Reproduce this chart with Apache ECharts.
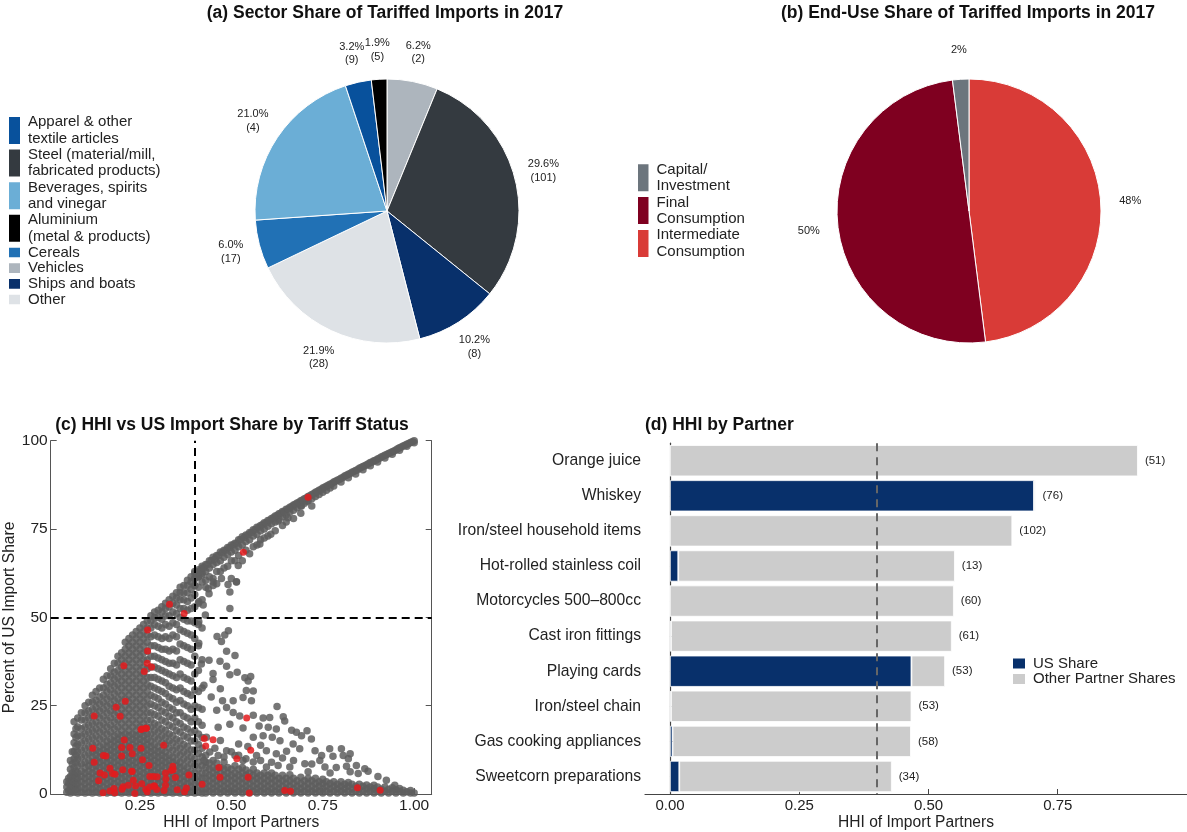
<!DOCTYPE html>
<html>
<head>
<meta charset="utf-8">
<script src="https://cdn.jsdelivr.net/npm/echarts@6/dist/echarts.min.js"></script>
<style>html,body{margin:0;padding:0;background:#fff}#c{width:1187px;height:832px}</style>
</head>
<body>
<div id="c"></div>
<script>
// ---------- (a) sector pie (clockwise from 12 o'clock) ----------
const sectorNames = ['Vehicles', 'Steel (material/mill, fabricated products)', 'Ships and boats', 'Other', 'Cereals', 'Beverages, spirits and vinegar', 'Apparel & other textile articles', 'Aluminium (metal & products)'];
const sectorShares = [6.2, 29.6, 10.2, 21.9, 6.0, 21.0, 3.2, 1.9];
const sectorCounts = [2, 101, 8, 28, 17, 4, 9, 5];
const sectorLegendTall = ['Apparel & other textile articles', 'Steel (material/mill, fabricated products)', 'Beverages, spirits and vinegar', 'Aluminium (metal & products)'];
const sectorLegendShort = ['Cereals', 'Vehicles', 'Ships and boats', 'Other'];

// ---------- (b) end-use pie (clockwise from 12 o'clock) ----------
const endUseNames = ['Intermediate Consumption', 'Final Consumption', 'Capital/ Investment'];
const endUseShares = [48, 50, 2];
const endUseLegend = ['Capital/ Investment', 'Final Consumption', 'Intermediate Consumption'];

// ---------- (d) HHI by partner ----------
const products = ['Orange juice', 'Whiskey', 'Iron/steel household items', 'Hot-rolled stainless coil', 'Motorcycles 500–800cc', 'Cast iron fittings', 'Playing cards', 'Iron/steel chain', 'Gas cooking appliances', 'Sweetcorn preparations'];
const usShareHHI = [0.000, 0.704, 0.000, 0.016, 0.000, 0.002, 0.467, 0.002, 0.005, 0.018];
const totalHHI = [0.905, 0.707, 0.662, 0.551, 0.549, 0.545, 0.532, 0.467, 0.466, 0.429];
const partnerCounts = [51, 76, 102, 13, 60, 61, 53, 53, 58, 34];
const hhiThreshold = 0.4;
const usShareThreshold = 50;

// ---------- (c) scatter: HHI vs US share ----------
// dense region, columns: [HHI, [US share values]]
const grayDenseCols = [
 [0.05,[0.5,2,3.5]],
 [0.055,[1,3,4.5]],
 [0.06,[0.3,1.5,3,5,7,9.5]],
 [0.065,[0.8,2.5,4,6,8.5,12]],
 [0.07,[0.5,2,3.5,5.5,7.5,10,12,14.5,17,20.5]],
 [0.075,[1.2,3,4.8,6.5,9,11,13.5,16,18.5]],
 [0.08,[0.3,1.5,3,4.5,6,8,10,12,14,16.5,19,21.5]],
 [0.09,[0.5,2,3.5,5,6.5,8.5,10.5,12.5,14.5,16.5,18.5,21,23]],
 [0.10,[0.3,1.5,3,4.5,6,7.5,9,11,13,15,17,19,21,23,25]],
 [0.11,[0.5,2,3.5,5,6.5,8,9.5,11.5,13.5,15.5,17.5,19.5,21.5,23.5,26]],
 [0.12,[0.3,1.5,3,4.5,6,7.5,9,10.5,12,14,16,18,20,22,24,26,28]],
 [0.13,[0.5,2,3.5,5,6.5,8,9.5,11,12.5,14.5,16.5,18.5,20.5,22.5,24.5,26.5,29]],
 [0.14,[0.3,1.5,3,4.5,6,7.5,9,10.5,12,13.5,15.5,17.5,19.5,21.5,23.5,25.5,27.5,30]],
 [0.15,[0.5,2,3.5,5,6.5,8,9.5,11,12.5,14,16,18,20,22,24,26,28,30,32.5]],
 [0.16,[0.3,1.5,3,4.5,6,7.5,9,10.5,12,13.5,15,17,19,21,23,25,27,29,31,33.5]],
 [0.17,[0.5,2,3.5,5,6.5,8,9.5,11,12.5,14,15.5,17.5,19.5,21.5,23.5,25.5,27.5,29.5,31.5,33.5,35.5]],
 [0.18,[0.3,1.5,3,4.5,6,7.5,9,10.5,12,13.5,15,16.5,18.5,20.5,22.5,24.5,26.5,28.5,30.5,32.5,34.5,37]],
 [0.19,[0.5,2,3.5,5,6.5,8,9.5,11,12.5,14,15.5,17,19,21,23,25,27,29,31,33,35,37,39]],
 [0.20,[0.3,1.5,3,4.5,6,7.5,9,10.5,12,13.5,15,16.5,18,20,22,24,26,28,30,32,34,36,38,40]],
 [0.21,[0.5,2,3.5,5,6.5,8,9.5,11,12.5,14,15.5,17,19,21,23,25,27,29,31,33,35,37,39,41,43]],
 [0.22,[0.3,1.5,3,4.5,6,7.5,9,10.5,12,13.5,15,16.5,18,20,22,24,26,28,30,32,34,36,38,40,42,44]],
 [0.23,[0.5,2,3.5,5,6.5,8,9.5,11,12.5,14,15.5,17,19,21,23,25,27,29,31,33,35,37,39,41,43,45]],
 [0.24,[0.3,1.5,3,4.5,6,7.5,9,10.5,12,13.5,15,16.5,18,20,22,24,26,28,30,32,34,36,38,40,42,44,46]],
 [0.25,[0.5,2,3.5,5,6.5,8,9.5,11,12.5,14,15.5,17,19,21,23,25,27,29,31,33,35,37,39,41,43,45,47]],
 [0.26,[0.3,1.5,3,4.5,6,7.5,9,10.5,12,13.5,15,16.5,18,20,22,24,26,28,30,32,34,36,38,40,42,44,46,48]],
 [0.27,[0.5,2,3.5,5,6.5,8,9.5,11,12.5,14,15.5,17,19,21,23,25,27,29,31,33,35.5,38,40.5,43,45,47,49]],
 [0.28,[0.3,1.5,3,4.5,6,7.5,9,10.5,12,13.5,15,17,19,21,23,25.5,28,30.5,33,36,39,42,44.5,47,49,50.5]],
 [0.29,[0.5,2,3.5,5,6.5,8,9.5,11,12.5,14,16,18,20,22.5,25,27.5,30,33,36,39,42,45,48,50,51.5]],
 [0.30,[0.3,1.5,3,4.5,6,7.5,9,10.5,12,13.5,15.5,17.5,19.5,22,24.5,27,29.5,32.5,35.5,38.5,41.5,44.5,47.5,50,52]],
 [0.31,[0.5,2,3.5,5,6.5,8,9.5,11,12.5,14.5,16.5,18.5,21,23.5,26,29,32,35,38,41,44,47,49.5,51.5,53]],
 [0.32,[0.3,1.5,3,4.5,6,7.5,9,10.5,12,14,16,18,20.5,23,25.5,28.5,31.5,34.5,37.5,41,44.5,48,50.5,52.5,54]],
 [0.33,[0.5,2,3.5,5,6.5,8,9.5,11,13,15,17,19.5,22,24.5,27.5,30.5,34,37,40.5,44,47.5,50.5,53,55]],
 [0.34,[0.3,1.5,3,4.5,6,7.5,9,10.5,12.5,14.5,16.5,19,21.5,24,27,30,33.5,37,41,45,48.5,51.5,54,56]],
 [0.35,[0.5,2,3.5,5,6.5,8,9.5,11.5,13.5,15.5,18,20.5,23,26,29.5,33,36.5,40.5,44.5,48,51,53.5,55.5,57]],
 [0.36,[0.3,1.5,3,4.5,6,7.5,9,11,13,15,17.5,20,23,26.5,30,34,38,42.5,46.5,50,52.5,55,57,58.5]],
 [0.37,[0.5,2,3.5,5,6.5,8,10,12,14,16.5,19,22,25.5,29,33,37.5,42,46,49.5,52.5,55,57,59]],
 [0.38,[0.3,1.5,3,4.5,6,7.5,9.5,11.5,13.5,16,18.5,21.5,25,28.5,32.5,37,41.5,45.5,49,52,54.5,57,59,60.5]],
 [0.39,[0.5,2,3.5,5,6.5,8.5,10.5,12.5,15,17.5,20.5,24,28,32,36.5,41,45,49,52.5,55.5,58,60,61.5]],
 [0.40,[0.3,1.5,3,4.5,6,8,10,12.5,15,18,21.5,25,29.5,34,39,44,48.5,53,56.5,59,61,62.5]],
 [0.41,[0.5,2,3.5,5,7,9,11.5,14,17,20.5,24.5,29,35,42,48,54,58.5,61.5,63]],
 [0.42,[0.3,1.5,3,4.5,6,8,10.5,13,16,19.5,24,30,38,47,55,60,62.5,64]]
];
// low-share band to the right, columns
const grayBottomCols = [
 [0.43,[0.3,1.5,3,4.5,6,7.5,9,11]],[0.44,[0.8,2.2,3.8,5.3,7,8.8]],[0.45,[0.3,1.5,3,4.5,6,7.5,9.5]],
 [0.46,[0.8,2.2,3.8,5.3,7,8.8]],[0.47,[0.3,1.5,3,4.5,6,7.5]],[0.48,[0.8,2.2,3.8,5.3,7,9]],
 [0.49,[0.3,1.5,3,4.5,6,7.5]],[0.50,[0.8,2.2,3.8,5.3,7]],[0.51,[0.3,1.5,3,4.5,6,8]],
 [0.52,[0.8,2.2,3.8,5.3,7]],[0.53,[0.3,1.5,3,4.5,6,7.5]],[0.54,[0.8,2.2,3.8,5.3,6.8]],
 [0.55,[0.3,1.5,3,4.5,6]],[0.56,[0.8,2.2,3.8,5.3,7]],[0.57,[0.3,1.5,3,4.5,6]],
 [0.58,[0.8,2.2,3.8,5.3]],[0.59,[0.3,1.5,3,4.5,6]],[0.60,[0.8,2.2,3.8,5.3]],
 [0.61,[0.3,1.5,3,4.5,6]],[0.62,[0.8,2.2,3.8,5.3]],[0.63,[0.3,1.5,3,4.5]],
 [0.64,[0.8,2.2,3.8,5.3]],[0.65,[0.3,1.5,3,4.5]],[0.66,[0.8,2.2,3.8,5.5]],
 [0.67,[0.3,1.5,3,4.5]],[0.68,[0.8,2.2,3.8]],[0.69,[0.3,1.5,3,4.8]],
 [0.70,[0.8,2.2,3.8]],[0.71,[0.3,1.5,3,4.5]],[0.72,[0.8,2.2,3.8]],
 [0.73,[0.3,1.5,3,4.5]],[0.74,[0.8,2.2,3.5]],[0.75,[0.3,1.5,3,4.2]],
 [0.76,[0.8,2.2,3.5]],[0.77,[0.3,1.5,3]],[0.78,[0.8,2.2,3.5]],
 [0.79,[0.3,1.5,2.8]],[0.80,[0.8,2.2,3.5]],[0.81,[0.3,1.5,2.8]],
 [0.82,[0.8,2.2,3.3]],[0.83,[0.3,1.5,2.8]],[0.84,[0.8,2.2]],
 [0.85,[0.3,1.5,2.8]],[0.86,[0.8,2.2]],[0.87,[0.3,1.5,2.6]],
 [0.88,[0.8,2]],[0.89,[0.3,1.5,2.5]],[0.90,[0.8,2]],
 [0.91,[0.3,1.4]],[0.92,[0.8,2]],[0.93,[0.3,1.3]],
 [0.94,[0.8,1.8]],[0.95,[0.3,1.2]],[0.96,[0.8,1.6]],
 [0.97,[0.3,1.1]],[0.98,[0.7]],[0.99,[0.3,1]],[1.00,[0.3]]
];
// scattered mid-share points right of the threshold
const graySparse = [
 [0.411,48.8],[0.411,42.7],[0.418,36.8],[0.439,56.7],[0.450,61.0],[0.460,59.5],[0.473,61.0],[0.496,57.2],
 [0.491,59.3],[0.514,60.0],[0.496,52.5],[0.492,46.2],[0.482,45.0],[0.461,44.6],[0.473,43.2],[0.487,40.4],
 [0.510,39.2],[0.469,37.6],[0.439,37.9],[0.450,34.1],[0.450,32.4],[0.425,30.8],[0.487,36.2],[0.496,33.8],
 [0.516,34.5],[0.537,32.9],[0.553,33.3],[0.546,32.0],[0.541,29.3],[0.560,29.2],[0.555,26.4],[0.532,27.3],
 [0.505,26.4],[0.476,26.4],[0.460,23.7],[0.487,24.5],[0.505,23.1],[0.523,22.1],[0.560,22.3],[0.587,21.5],
 [0.605,21.7],[0.625,24.8],[0.642,21.9],[0.646,20.7],[0.623,18.4],[0.601,18.9],[0.576,19.3],[0.560,16.1],
 [0.587,16.5],[0.612,16.1],[0.633,15.1],[0.665,18.1],[0.678,17.5],[0.692,16.5],[0.707,17.9],[0.719,15.6],
 [0.669,14.2],[0.687,12.8],[0.651,12.1],[0.623,11.4],[0.596,12.3],[0.569,10.9],[0.560,9.1],[0.532,9.5],
 [0.510,10.9],[0.487,12.3],[0.464,10.9],[0.441,11.9],[0.425,9.5],[0.432,16.1],[0.464,18.9],[0.496,19.8],
 [0.532,18.7],[0.729,12.3],[0.747,10.9],[0.769,12.8],[0.778,10.7],[0.801,12.8],[0.806,10.9],[0.820,10.0],
 [0.825,11.4],[0.842,8.1],[0.865,7.2],[0.874,6.5],[0.901,5.0],[0.742,9.5],[0.701,8.6],[0.756,7.7],
 [0.787,7.5],[0.815,7.9],[0.660,7.7],[0.628,8.1],[0.596,7.7],[0.710,6.3],[0.825,6.3],[0.847,5.8],
 [0.924,3.9],[0.947,2.5],[0.437,58.1],[0.450,59.0],[0.411,54.4],[0.423,53.5],[0.429,50.7],[0.608,73.5],
 [0.578,70.8],[0.519,64.7],[0.510,66.0],[0.514,60.1],[0.500,61.0],[0.628,77.3],[0.655,78.2],[0.692,81.5],
 [0.706,82.9],[0.445,27.5],[0.470,29.8],[0.520,14.2],[0.545,13.5],[0.470,15.2],[0.580,13.8],[0.640,10.2],
 [0.455,13.0],[0.48,10.5],[0.50,12.0],[0.52,11.0],[0.54,10.0],[0.58,9.5],[0.61,9.0],[0.67,9.5],[0.72,8.5],[0.77,6.0]
];
// concentrated products along the upper edge
const grayUpper = [
 [0.40,63],[0.40,61],[0.40,59],[0.41,63.5],[0.41,61.5],[0.42,64.5],[0.42,62],[0.43,65],[0.43,63],[0.43,60.5],
 [0.44,66],[0.44,64],[0.44,61.5],[0.45,67],[0.45,65],[0.46,67.5],[0.46,65.5],[0.46,63],[0.47,68.5],[0.47,66],
 [0.48,69],[0.48,67],[0.48,64],[0.49,69.8],[0.49,67.8],[0.50,70.5],[0.50,68.5],[0.50,66],[0.51,71],[0.51,69],
 [0.52,72],[0.52,70],[0.52,67.5],[0.53,72.8],[0.53,70.5],[0.54,73.3],[0.54,71.5],[0.54,69],[0.55,74],[0.55,72],
 [0.56,74.8],[0.56,73],[0.56,70],[0.57,75.5],[0.57,73.5],[0.58,76],[0.58,74.5],[0.58,72],[0.59,76.8],[0.59,75],
 [0.60,77.4],[0.60,75.8],[0.60,73],[0.61,78],[0.61,76.5],[0.62,78.7],[0.62,77],[0.63,79.3],[0.63,77.8],[0.64,80],
 [0.64,78.5],[0.65,80.6],[0.65,79],[0.65,77],[0.66,81.2],[0.66,79.8],[0.67,81.8],[0.67,80.3],[0.68,82.4],[0.68,81],
 [0.69,83],[0.69,81.6],[0.70,83.6],[0.70,82.3],[0.71,84.2],[0.71,83],[0.72,84.8],[0.72,83.6],[0.73,85.4],[0.73,84.2],
 [0.74,86],[0.74,84.8],[0.75,86.6],[0.75,85.4],[0.76,87.1],[0.76,86],[0.77,87.7],[0.77,86.6],[0.78,88.3],[0.78,87.2],
 [0.79,88.8],[0.80,89.4],[0.80,88.3],[0.81,90],[0.82,90.5],[0.82,89.5],[0.83,91.1],[0.84,91.6],[0.84,90.6],[0.85,92.2],
 [0.86,92.7],[0.86,91.8],[0.87,93.2],[0.88,93.8],[0.88,92.9],[0.89,94.3],[0.90,94.8],[0.90,94],[0.91,95.4],[0.92,95.9],
 [0.92,95.1],[0.93,96.4],[0.94,96.9],[0.94,96.2],[0.95,97.4],[0.96,98],[0.96,97.3],[0.97,98.5],[0.98,99],[0.98,98.4],
 [0.99,99.5],[1.00,100],[1.00,99.4],
 [0.405,62.5],[0.415,63],[0.425,64],[0.435,65],[0.445,66],[0.455,66.5],[0.465,67.5],[0.475,68.3],[0.485,69],[0.495,69.8],
 [0.505,70.5],[0.515,71],[0.525,72],[0.535,72.6],[0.545,73.3],[0.555,74],[0.565,74.8],[0.575,75.5],[0.585,76.2],[0.595,76.8],
 [0.605,77.5],[0.615,78.2],[0.625,78.8],[0.635,79.5],[0.645,80],[0.655,80.7],[0.665,81.4],[0.675,82],[0.685,82.6],[0.695,83.2],
 [0.705,83.8],[0.715,84.4],[0.725,85],[0.735,85.6],[0.745,86.2],[0.755,86.8],[0.765,87.4],[0.775,87.9],[0.785,88.5],[0.795,89],
 [0.805,89.6],[0.815,90.2],[0.825,90.7],[0.835,91.3],[0.845,91.8],[0.855,92.4],[0.865,92.9],[0.875,93.5],[0.885,94],[0.895,94.5],
 [0.905,95],[0.915,95.6],[0.925,96.1],[0.935,96.6],[0.945,97.1],[0.955,97.7],[0.965,98.2],[0.975,98.7],[0.985,99.2],[0.995,99.7],
 [0.43,58.5],[0.45,60],[0.47,63],[0.49,64.5],[0.53,66],[0.55,68],[0.57,70.5],[0.59,72.5],[0.62,74.5],[0.64,76],
 [0.67,78],[0.69,79.5],[0.72,81.5]
];
// tariffed products (red)
const redPoints = [
 [0.710,84.0],[0.533,68.4],[0.331,53.7],[0.371,51.1],[0.271,46.4],[0.271,40.5],[0.206,36.3],[0.270,37.0],
 [0.282,36.0],[0.262,34.7],[0.210,26.3],[0.185,24.6],[0.125,22.1],[0.196,22.0],[0.253,18.3],[0.266,18.6],
 [0.207,15.3],[0.121,13.0],[0.200,13.2],[0.223,13.2],[0.253,13.0],[0.315,13.8],[0.125,9.0],[0.157,10.8],
 [0.200,10.8],[0.229,11.4],[0.257,9.7],[0.275,8.1],[0.340,7.9],[0.168,7.3],[0.203,6.9],[0.229,6.4],
 [0.141,6.0],[0.153,5.4],[0.175,5.8],[0.320,6.0],[0.336,6.7],[0.384,5.4],[0.137,3.8],[0.232,3.9],
 [0.277,5.0],[0.287,5.0],[0.347,4.7],[0.321,4.3],[0.204,2.1],[0.238,2.3],[0.255,2.9],[0.290,2.3],
 [0.320,2.5],[0.149,0.4],[0.168,0.9],[0.181,0.4],[0.201,1.4],[0.236,0.2],[0.266,1.4],[0.270,0.7],
 [0.296,1.3],[0.372,0.7],[0.377,1.7],[0.420,2.8],[0.426,15.7],[0.430,13.6],[0.450,15.4],[0.542,21.5],
 [0.553,12.4],[0.515,10.0],[0.466,7.5],[0.469,4.8],[0.546,4.8],[0.549,0.3],[0.646,1.0],[0.662,0.8],
 [0.845,1.8],[0.907,1.1],[0.179,1.6],[0.218,2.5],[0.277,2.0],[0.288,2.3],[0.316,1.0],[0.352,1.2],
 [0.182,5.6],[0.227,6.5],[0.297,4.9],[0.341,6.9],[0.255,18.4],[0.268,18.6],[0.150,10.9]
];

// ---------- styles ----------
const FONT = "'Liberation Sans', Arial, Helvetica, sans-serif";
const TXT = '#222';
const sectorColors = {
  'Apparel & other textile articles': '#08519c',
  'Steel (material/mill, fabricated products)': '#343a40',
  'Beverages, spirits and vinegar': '#6baed6',
  'Aluminium (metal & products)': '#000000',
  'Cereals': '#2171b5',
  'Vehicles': '#adb5bd',
  'Ships and boats': '#08306b',
  'Other': '#dee2e6'
};
const sectorLegendText = {
  'Apparel & other textile articles': 'Apparel & other\ntextile articles',
  'Steel (material/mill, fabricated products)': 'Steel (material/mill,\nfabricated products)',
  'Beverages, spirits and vinegar': 'Beverages, spirits\nand vinegar',
  'Aluminium (metal & products)': 'Aluminium\n(metal & products)'
};
const endUseColors = {'Capital/ Investment': '#6c757d', 'Final Consumption': '#7f0020', 'Intermediate Consumption': '#d93b37'};
const endUseLegendText = {'Capital/ Investment': 'Capital/\nInvestment', 'Final Consumption': 'Final\nConsumption', 'Intermediate Consumption': 'Intermediate\nConsumption'};

const flatten = cols => { const out = []; cols.forEach(([x, ys]) => ys.forEach(y => out.push([x, y]))); return out; };
const grayAll = flatten(grayDenseCols).concat(flatten(grayBottomCols), graySparse, grayUpper);

const pieA = sectorNames.map((n, i) => ({name: n, value: sectorShares[i], itemStyle: {color: sectorColors[n]}}));
const pieALabels = sectorNames.map((n, i) => ({name: n + '\u200b', value: sectorShares[i], count: sectorCounts[i]}));
const pieB = endUseNames.map((n, i) => ({name: n, value: endUseShares[i], itemStyle: {color: endUseColors[n]}}));
const pieBLabels = endUseNames.map((n, i) => ({name: n + '\u200b', value: endUseShares[i]}));

const chart = echarts.init(document.getElementById('c'), null, {renderer: 'canvas'});
const titleStyle = {fontFamily: FONT, fontWeight: 'bold', fontSize: 17.5, color: '#111'};
const legendText = {fontFamily: FONT, fontSize: 15, color: TXT};

const option = {
  animation: false,
  backgroundColor: '#fff',
  textStyle: {fontFamily: FONT},
  title: [
    {text: '(a) Sector Share of Tariffed Imports in 2017', left: 385, top: 4, textAlign: 'center', padding: 0, textStyle: titleStyle},
    {text: '(b) End-Use Share of Tariffed Imports in 2017', left: 968, top: 4, textAlign: 'center', padding: 0, textStyle: titleStyle},
    {text: '(c) HHI vs US Import Share by Tariff Status', left: 232, top: 416, textAlign: 'center', padding: 0, textStyle: titleStyle},
    {text: '(d) HHI by Partner', left: 645, top: 416, padding: 0, textStyle: titleStyle}
  ],
  legend: [
    {data: sectorLegendTall, orient: 'vertical', left: 7, top: 114.2, padding: 0, itemGap: 0, itemWidth: 13, itemHeight: 29, icon: 'rect',
     selectedMode: false, formatter: n => sectorLegendText[n] || n,
     textStyle: Object.assign({}, legendText, {lineHeight: 16.3, padding: [0, 0, 0, 2]})},
    {data: sectorLegendShort, orient: 'vertical', left: 7, top: 244.6, padding: 0, itemGap: 0, itemWidth: 13, itemHeight: 11.6, icon: 'rect',
     selectedMode: false, textStyle: Object.assign({}, legendText, {lineHeight: 15.7, padding: [0, 0, 0, 2]})},
    {data: endUseLegend, orient: 'vertical', left: 636, top: 161.4, padding: 0, itemGap: 0, itemWidth: 12.5, itemHeight: 29, icon: 'rect',
     selectedMode: false, formatter: n => endUseLegendText[n] || n,
     textStyle: Object.assign({}, legendText, {lineHeight: 16.4, padding: [0, 0, 0, 2]})},
    {data: ['US Share', 'Other Partner Shares'], orient: 'vertical', left: 1011, top: 655.9, padding: 0, itemGap: 0, itemWidth: 14, itemHeight: 12, icon: 'rect',
     selectedMode: false, textStyle: Object.assign({}, legendText, {lineHeight: 15.4, padding: [0, 0, 0, 2]})}
  ],
  grid: [
    {left: 50.7, width: 381, top: 440.7, height: 356.6, containLabel: false},
    {left: 645, right: 0, top: 443.2, height: 352.6, containLabel: false}
  ],
  xAxis: [
    {gridIndex: 0, type: 'value', min: 0.006, max: 1.048,
     axisLine: {show: true, lineStyle: {color: '#555', width: 1}},
     axisTick: {show: true, inside: true, length: 6, customValues: [0.25, 0.5, 0.75, 1], lineStyle: {color: '#555'}},
     axisLabel: {show: true, customValues: [0.25, 0.5, 0.75, 1], formatter: v => Number(v).toFixed(2), margin: 4, fontSize: 15.5, color: TXT},
     splitLine: {show: false},
     name: 'HHI of Import Partners', nameLocation: 'middle', nameGap: 19, nameTextStyle: {fontSize: 15.6, color: TXT}},
    {gridIndex: 1, type: 'value', min: -0.0483, max: 1.0,
     axisLine: {show: true, lineStyle: {color: '#444', width: 1.2}},
     axisTick: {show: true, inside: true, length: 5, customValues: [0, 0.25, 0.5, 0.75], lineStyle: {color: '#444'}},
     axisLabel: {show: true, customValues: [0, 0.25, 0.5, 0.75], formatter: v => Number(v).toFixed(2), margin: 4, fontSize: 15, color: TXT},
     splitLine: {show: false},
     name: 'HHI of Import Partners', nameLocation: 'middle', nameGap: 21, nameTextStyle: {fontSize: 15.6, color: TXT}}
  ],
  yAxis: [
    {gridIndex: 0, type: 'value', min: 0, max: 100, interval: 25,
     axisLine: {show: true, lineStyle: {color: '#555', width: 1}},
     axisTick: {show: true, inside: true, length: 6, lineStyle: {color: '#555'}},
     axisLabel: {show: true, margin: 3, fontSize: 15.5, color: TXT},
     splitLine: {show: false},
     name: 'Percent of US Import Share', nameLocation: 'middle', nameRotate: 90, nameGap: 30, nameTextStyle: {fontSize: 15.6, color: TXT}},
    {gridIndex: 0, type: 'value', min: 0, max: 100, interval: 25, position: 'right',
     axisLine: {show: true, lineStyle: {color: '#555', width: 1}},
     axisTick: {show: true, inside: true, length: 6, lineStyle: {color: '#555'}},
     axisLabel: {show: false}, splitLine: {show: false}},
    {gridIndex: 1, type: 'category', data: products, inverse: true,
     axisLine: {show: true, lineStyle: {color: '#444', width: 1.2}},
     axisTick: {show: true, inside: true, length: 6, alignWithLabel: true, lineStyle: {color: '#444'}},
     axisLabel: {show: true, margin: 4, fontSize: 15.7, color: TXT},
     splitLine: {show: false}}
  ],
  series: [
    {type: 'pie', name: 'sector', center: [387, 211], radius: 132, startAngle: 90, clockwise: true,
     data: pieA, label: {show: false}, labelLine: {show: false}, silent: true,
     itemStyle: {borderColor: '#fff', borderWidth: 1}, emphasis: {disabled: true}},
    {type: 'pie', name: 'sectorLabels', center: [387, 211], radius: [150, 167], startAngle: 90, clockwise: true,
     data: pieALabels, silent: true, emphasis: {disabled: true}, legendHoverLink: false,
     itemStyle: {color: 'rgba(0,0,0,0)'}, labelLine: {show: false},
     label: {show: true, position: 'inside', fontSize: 11, lineHeight: 13.5, color: TXT, fontFamily: FONT,
       formatter: p => p.value.toFixed(1) + '%\n(' + p.data.count + ')'}},
    {type: 'pie', name: 'enduse', center: [969, 211], radius: 132, startAngle: 90, clockwise: true,
     data: pieB, label: {show: false}, labelLine: {show: false}, silent: true,
     itemStyle: {borderColor: '#fff', borderWidth: 1}, emphasis: {disabled: true}},
    {type: 'pie', name: 'enduseLabels', center: [969, 211], radius: [150, 167], startAngle: 90, clockwise: true,
     data: pieBLabels, silent: true, emphasis: {disabled: true}, legendHoverLink: false,
     itemStyle: {color: 'rgba(0,0,0,0)'}, labelLine: {show: false},
     label: {show: true, position: 'inside', fontSize: 11, color: TXT, fontFamily: FONT,
       formatter: p => p.value + '%'}},
    {type: 'scatter', name: 'Not tariffed', xAxisIndex: 0, yAxisIndex: 0, data: grayAll, symbolSize: 7.5,
     itemStyle: {color: '#5e5e5e', opacity: 0.85}, silent: true,
     markLine: {silent: true, symbol: 'none', label: {show: false},
       lineStyle: {color: '#000', width: 2, type: [8, 5]},
       data: [{xAxis: hhiThreshold}, {yAxis: usShareThreshold}]}},
    {type: 'scatter', name: 'Tariffed', xAxisIndex: 0, yAxisIndex: 0, data: redPoints, symbolSize: 7,
     itemStyle: {color: '#e41a1c', opacity: 0.85}, silent: true},
    {type: 'bar', name: 'US Share', xAxisIndex: 1, yAxisIndex: 2, stack: 'hhi', data: usShareHHI,
     barCategoryGap: '11%', itemStyle: {color: '#08306b', borderColor: '#fff', borderWidth: 0.8}, silent: true},
    {type: 'bar', name: 'Other Partner Shares', xAxisIndex: 1, yAxisIndex: 2, stack: 'hhi',
     data: totalHHI.map((t, i) => +(t - usShareHHI[i]).toFixed(3)),
     barCategoryGap: '11%', itemStyle: {color: '#cccccc', borderColor: '#fff', borderWidth: 0.8}, silent: true,
     label: {show: true, position: 'right', distance: 7, fontSize: 11.5, color: TXT, fontFamily: FONT,
       formatter: p => '(' + partnerCounts[p.dataIndex] + ')'},
     markLine: {silent: true, symbol: 'none', label: {show: false}, z: 10,
       lineStyle: {color: '#666', width: 2, type: [8, 6]}, data: [{xAxis: hhiThreshold}]}}
  ]
};
chart.setOption(option);
</script>
</body>
</html>
